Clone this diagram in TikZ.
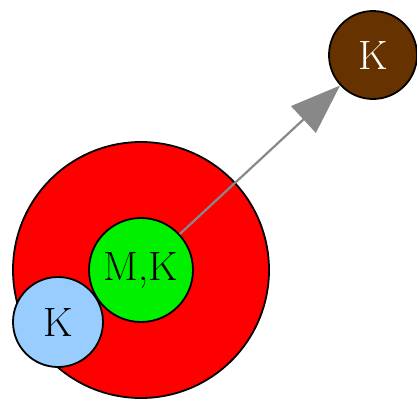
\documentclass[tikz,border=0pt]{standalone}
\usetikzlibrary{arrows.meta}
\definecolor{cred}{HTML}{FF0000}
\definecolor{cgreen}{HTML}{00F000}
\definecolor{cblue}{HTML}{99CCFF}
\definecolor{cbrown}{HTML}{663300}
\definecolor{cgray}{HTML}{888888}
\tikzset{
  blob/.style={circle, draw=black, line width=1.8pt, inner sep=0pt, font=\fontsize{41}{41}\selectfont},
  link/.style={draw=cgray, line width=2.2pt, -{Triangle[length=50pt,width=36pt]}}
}
\begin{document}
\begin{tikzpicture}[x=1pt,y=-1pt]
\useasboundingbox (0,0) rectangle (417,399);
\node[blob, fill=cred, minimum size=256pt] (outer) at (141,270) {};
\node[blob, fill=cgreen, minimum size=104pt] (mk) at (141,270) {M,K};
\node[blob, fill=cblue, minimum size=90pt] (k1) at (58,322) {K};
\node[blob, fill=cbrown, text=white, minimum size=88pt] (k2) at (373,55) {K};
\draw[link] (mk) -- (k2);
\end{tikzpicture}
\end{document}
